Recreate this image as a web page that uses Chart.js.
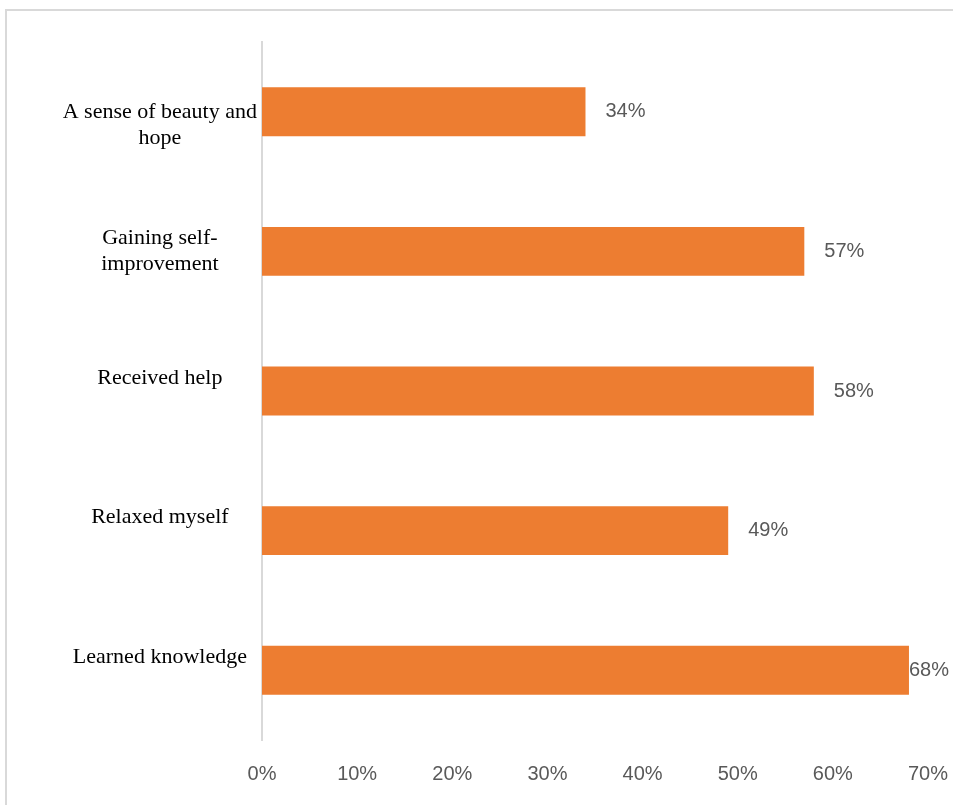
<!DOCTYPE html>
<html>
<head>
<meta charset="utf-8">
<script src="https://cdn.jsdelivr.net/npm/chart.js@4/dist/chart.umd.min.js"></script>
<style>
  html, body { margin: 0; padding: 0; background: #ffffff; overflow: hidden; }
  #wrap { position: relative; width: 953px; height: 805px; }
  #frame {
    position: absolute; left: 5px; top: 9px; width: 960px; height: 810px;
    border-top: 2px solid #d9d9d9; border-left: 2px solid #d9d9d9;
    box-sizing: border-box;
  }
  #chart { position: absolute; left: 0; top: 0; }
</style>
</head>
<body>
<div id="wrap">
  <div id="frame"></div>
  <canvas id="chart" width="953" height="805"></canvas>
</div>
<script>
// Survey responses: share of respondents per benefit (percent)
const categories = [
  ['A sense of beauty and', 'hope'],
  ['Gaining self-', 'improvement'],
  'Received help',
  'Relaxed myself',
  'Learned knowledge'
];
const shares = [34, 57, 58, 49, 68];
const tickValues = [0, 10, 20, 30, 40, 50, 60, 70];

const BAR_COLOR = '#ED7D31';
const TEXT_GRAY = '#595959';

// Category label lines: single-line labels sit a little above the bar centre,
// the first wrapped label a little below it (blank lines shift the block).
function categoryLines(i) {
  const lab = categories[i];
  if (!Array.isArray(lab)) return [lab, ''];
  if (i === 0) return [''].concat(lab);
  return lab;
}

// Value labels to the right of each bar, kept inside the canvas
const valueLabels = {
  id: 'valueLabels',
  afterDatasetsDraw(chart) {
    const ctx = chart.ctx;
    const meta = chart.getDatasetMeta(0);
    ctx.save();
    ctx.font = '20px "Liberation Sans", Arial, sans-serif';
    ctx.fillStyle = TEXT_GRAY;
    ctx.textAlign = 'left';
    ctx.textBaseline = 'middle';
    meta.data.forEach((bar, i) => {
      const text = shares[i] + '%';
      const w = ctx.measureText(text).width;
      let x = bar.x + 20;
      x = Math.min(x, chart.width - w - 4);
      ctx.fillText(text, x, bar.y);
    });
    ctx.restore();
  }
};

new Chart(document.getElementById('chart'), {
  type: 'bar',
  data: {
    labels: categories,
    datasets: [{
      data: shares,
      backgroundColor: BAR_COLOR,
      borderWidth: 0,
      barPercentage: 0.35,
      categoryPercentage: 1.0
    }]
  },
  options: {
    indexAxis: 'y',
    responsive: false,
    animation: false,
    devicePixelRatio: 1,
    layout: { padding: { top: 42, right: 25, left: 0, bottom: 0 } },
    plugins: {
      legend: { display: false },
      tooltip: { enabled: false }
    },
    scales: {
      x: {
        min: 0,
        max: 70,
        afterBuildTicks(scale) {
          scale.ticks = tickValues.map(v => ({ value: v }));
        },
        grid: { display: false, drawTicks: false },
        border: { display: false },
        ticks: {
          padding: 22,
          color: TEXT_GRAY,
          font: { family: '"Liberation Sans", Arial, sans-serif', size: 20 },
          callback: v => v + '%'
        },
        afterFit(scale) {
          scale.height = 65;
          scale.paddingLeft = 0;
          scale.paddingRight = 0;
        }
      },
      y: {
        grid: { display: false, drawTicks: false },
        border: { display: true, color: '#d9d9d9', width: 2 },
        ticks: {
          padding: 5,
          crossAlign: 'center',
          color: '#000000',
          font: { family: '"Liberation Serif", "Times New Roman", serif', size: 22, lineHeight: 1.18 },
          callback: (v, i) => categoryLines(i)
        },
        afterFit(scale) { scale.width = 262; }
      }
    }
  },
  plugins: [valueLabels]
});
</script>
</body>
</html>
